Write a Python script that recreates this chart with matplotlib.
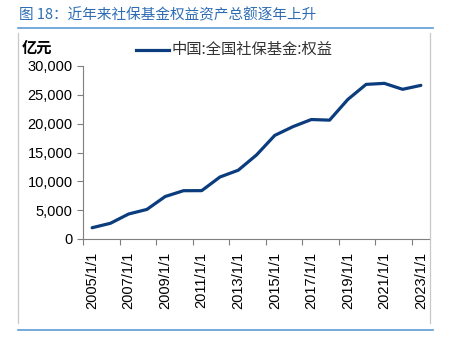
import matplotlib.pyplot as plt
from matplotlib.lines import Line2D
from matplotlib.ticker import FuncFormatter

plt.rcParams['font.family'] = ['Liberation Sans', 'Noto Sans CJK SC', 'DejaVu Sans']

# 中国:全国社保基金:权益 (亿元)
years = list(range(2005, 2024))
equity = [1954, 2724, 4337, 5131, 7367, 8375, 8386, 10753, 11927, 14573,
          17967, 19488, 20716, 20611, 24198, 26813, 26990, 25960, 26641]
tick_years = list(range(2005, 2024, 2))
tick_labels = [f"{y}/1/1" for y in tick_years]

title = "图 18：近年来社保基金权益资产总额逐年上升"
unit = "亿元"
legend_label = "中国:全国社保基金:权益"

W, H = 453, 353
fig = plt.figure(figsize=(W / 100, H / 100), dpi=100)

def fx(px):
    return px / W

def fy(py):
    return 1 - py / H

ax = fig.add_axes([fx(83), fy(239), fx(430) - fx(83), fy(66) - fy(239)])
ax.plot(years, equity, color='#0b3d7e', lw=2.3, solid_capstyle='round',
        solid_joinstyle='round')
# category axis: ticks sit between categories, labels on the category
ax.set_xlim(years[0] - 0.5, years[-1] + 0.5)
ax.set_ylim(0, 30000)
ax.set_yticks(range(0, 30001, 5000))
ax.yaxis.set_major_formatter(FuncFormatter(lambda v, p: f"{int(v):,}"))
ax.set_xticks([y - 0.5 for y in tick_years])
ax.set_xticklabels([])
ax.set_xticks(tick_years, minor=True)
ax.set_xticklabels(tick_labels, minor=True, rotation=90)
for s in ['top', 'right']:
    ax.spines[s].set_visible(False)
for s in ['left', 'bottom']:
    ax.spines[s].set_color('#7f7f7f')
    ax.spines[s].set_linewidth(0.8)
ax.tick_params(axis='both', colors='#7f7f7f', length=4, width=0.8,
               labelcolor='black', labelsize=10.5)
ax.tick_params(axis='x', which='minor', length=0, pad=9, labelsize=10.5,
               labelcolor='black')

# frame and header lines
fig.add_artist(Line2D([fx(18), fx(433)], [fy(27.5), fy(27.5)], color='#5b9bd5', lw=1.2))
fig.add_artist(Line2D([fx(18), fx(433)], [fy(330), fy(330)], color='#5b9bd5', lw=1.2))
fig.add_artist(Line2D([fx(18), fx(18)], [fy(33), fy(323)], color='#c8c8c8', lw=0.9))
fig.add_artist(Line2D([fx(430), fx(430)], [fy(33), fy(323)], color='#c8c8c8', lw=0.9))

fig.text(fx(19), fy(15), title, color='#2e6db4', fontsize=10.5, va='center',
         family=['Noto Sans CJK SC', 'DejaVu Sans'])
fig.text(fx(22), fy(48), unit, color='black', fontsize=11, va='center',
         fontweight='bold', family=['Noto Sans CJK SC', 'DejaVu Sans'])
fig.add_artist(Line2D([fx(136), fx(169)], [fy(50), fy(50)], color='#0b3d7e', lw=2.3))
fig.text(fx(172), fy(49), legend_label, color='#333333', fontsize=11, va='center',
         family=['Noto Sans CJK SC', 'DejaVu Sans'])

fig.savefig('out.png', dpi=100)
